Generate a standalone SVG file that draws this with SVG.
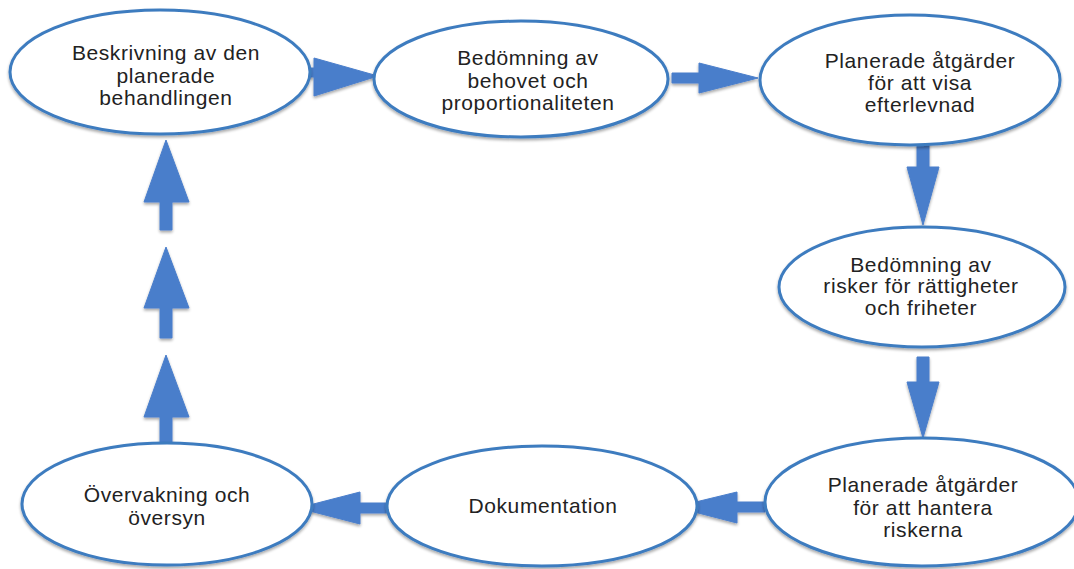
<svg xmlns="http://www.w3.org/2000/svg" width="1074" height="569" viewBox="0 0 1074 569">
<defs>
<filter id="sh" x="-10%" y="-10%" width="120%" height="130%">
<feGaussianBlur in="SourceAlpha" stdDeviation="1.5"/>
<feOffset dx="0" dy="2" result="b"/>
<feComponentTransfer><feFuncA type="linear" slope="0.35"/></feComponentTransfer>
<feMerge><feMergeNode/><feMergeNode in="SourceGraphic"/></feMerge>
</filter>
<style>
.node ellipse{fill:#ffffff;stroke:#3e7bbf;stroke-width:3;filter:url(#sh)}
.node text{font-family:"Liberation Sans",Arial,sans-serif;font-size:21px;letter-spacing:0.6px;fill:#222222;text-anchor:middle}
.conn path{fill:#4a7ecb;stroke:#4a7ecb;stroke-width:1;stroke-linejoin:round;filter:url(#sh)}
</style>
</defs>
<rect width="1074" height="569" fill="#ffffff"/>
<g class="conn" id="connectors">
<path d="M290,68 L314,68 L314,58 L378,76 L314,96 L314,77 L290,77 Z"/>
<path d="M672,73 L699,73 L699,63 L758,78 L699,93 L699,83 L672,83 Z"/>
<path d="M917,142 L929,142 L929,167 L939,167 L923,225 L907,167 L917,167 Z"/>
<path d="M917,357 L929,357 L929,382 L939,382 L923,438 L907,382 L917,382 Z"/>
<path d="M765,502 L737,502 L737,492 L675,507 L737,523 L737,512 L765,512 Z"/>
<path d="M387,503 L360,503 L360,492 L298,508 L360,524 L360,513 L387,513 Z"/>
<path d="M160,443 L160,417 L144,417 L166,355 L189,417 L172,417 L172,443 Z"/>
<path d="M160,338 L160,308 L144,308 L166,247 L189,308 L172,308 L172,338 Z"/>
<path d="M160,230 L160,202 L144,202 L166,140 L189,202 L172,202 L172,230 Z"/>
</g>
<g class="node" id="n1"><ellipse cx="160" cy="72" rx="150" ry="62"/>
<text x="166" y="60">Beskrivning av den</text><text x="166" y="83">planerade</text><text x="166" y="105">behandlingen</text></g>
<g class="node" id="n2"><ellipse cx="521" cy="79" rx="147" ry="58"/>
<text x="528" y="65">Bedömning av</text><text x="528" y="88">behovet och</text><text x="528" y="110">proportionaliteten</text></g>
<g class="node" id="n3"><ellipse cx="910" cy="80" rx="150" ry="65"/>
<text x="920" y="68">Planerade åtgärder</text><text x="920" y="90">för att visa</text><text x="920" y="112">efterlevnad</text></g>
<g class="node" id="n4"><ellipse cx="922" cy="287" rx="143" ry="60"/>
<text x="921" y="272">Bedömning av</text><text x="921" y="293">risker för rättigheter</text><text x="921" y="315">och friheter</text></g>
<g class="node" id="n5"><ellipse cx="922" cy="502" rx="157" ry="64"/>
<text x="923" y="492">Planerade åtgärder</text><text x="923" y="515">för att hantera</text><text x="923" y="537">riskerna</text></g>
<g class="node" id="n6"><ellipse cx="542" cy="506" rx="155" ry="60"/>
<text x="543" y="513">Dokumentation</text></g>
<g class="node" id="n7"><ellipse cx="167" cy="504" rx="145" ry="61"/>
<text x="167" y="502">Övervakning och</text><text x="167" y="525">översyn</text></g>
</svg>
